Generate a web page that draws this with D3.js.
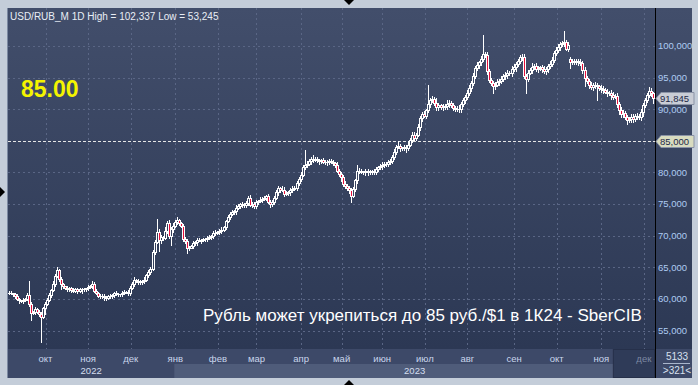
<!DOCTYPE html>
<html>
<head>
<meta charset="utf-8">
<script src="https://cdn.jsdelivr.net/npm/d3@7"></script>
<style>
  body { margin: 0; background: #c4cdd9; }
  svg { display: block; }
  text { font-family: "Liberation Sans", Arial, sans-serif; }
</style>
</head>
<body>
<div id="chart"></div>
<script>
// trading calendar
const firstDay = "2022-09-07";
const lastDay = "2023-12-08";
const holidays = ["2022-11-04", "2023-01-02", "2023-02-23", "2023-03-08", "2023-05-01",
    "2023-05-08", "2023-05-09", "2023-06-12", "2023-11-06"];

// daily closes, USD/RUB
const closes = [
    61.0, 60.9, 60.7, 60.4, 60.0, 59.8, 59.7, 59.9, 60.0, 60.6,
    59.2, 57.8, 57.9, 58.4, 58.0, 57.6, 57.1, 58.5, 59.2,
    59.9, 60.6, 61.4, 62.4, 63.6, 64.5, 63.2, 62.3, 62.0, 61.8,
    61.5, 61.7, 61.4, 61.3, 61.6, 61.3, 61.5, 61.6, 61.5, 61.7,
    61.9, 62.0, 62.3, 61.3, 61.0, 60.5, 60.4, 60.5, 60.3, 60.2,
    60.5, 60.4, 60.6, 60.9, 60.8, 60.7, 60.7, 61.0, 61.1,
    61.1, 60.9, 61.8, 62.4, 63.0, 62.9, 62.7, 62.6, 62.8, 63.0,
    63.8, 64.2, 64.8, 67.4, 69.0, 70.6, 69.3, 69.8, 69.6, 70.8,
    72.0, 70.0, 71.0, 71.6, 72.2, 72.4, 72.0, 71.5, 69.5, 69.2,
    68.0, 68.1, 68.3, 68.8, 69.0, 69.3, 69.2, 69.3, 69.4,
    69.5, 69.6, 69.8, 69.9, 70.5, 70.4, 70.6, 70.7, 70.9, 71.3,
    72.3, 73.0, 73.4, 73.7, 73.9, 74.4, 74.7, 75.0, 74.8, 74.9,
    75.1, 75.9, 74.9, 75.0, 74.7, 75.3, 75.5, 75.7, 75.8,
    76.0, 76.2, 75.4, 75.0, 75.3, 76.0, 76.9, 77.5, 77.2, 77.3,
    76.6, 76.8, 76.9, 77.2, 77.4, 77.6, 78.4, 79.0, 79.6, 80.8,
    81.2, 81.4, 81.8, 82.2, 82.0, 82.1, 81.9, 81.8, 81.9, 81.7,
    81.6, 81.7, 81.8, 81.7, 81.5, 81.2, 80.3, 79.8, 79.3,
    78.2, 77.8, 77.6, 77.2, 76.3, 77.4, 78.8, 80.2, 80.3, 80.1,
    80.0, 80.2, 80.0, 80.1, 80.2, 80.1, 80.5, 80.8, 81.0, 81.2,
    81.3, 81.4, 81.6, 81.8, 82.5, 83.2, 84.0, 84.2, 83.8, 83.9,
    84.0, 83.8, 84.4, 85.2, 86.0, 85.5, 86.0, 87.2, 88.6,
    89.3, 89.0, 89.8, 90.8, 91.5, 91.6, 91.0, 90.3, 90.6, 90.4,
    90.3, 90.5, 90.9, 91.0, 90.6, 90.2, 90.1, 90.0, 90.1, 90.8,
    91.4, 91.9, 92.6, 93.4, 94.1, 95.3, 96.5, 97.0, 97.4, 97.9,
    98.8, 98.6, 96.0, 94.6, 94.2, 93.6, 93.9, 94.3, 94.5,
    94.8, 95.2, 95.4, 95.8, 95.7, 96.4, 96.6, 97.2, 97.6, 98.2,
    98.3, 95.3, 94.8, 95.8, 96.2, 96.6, 96.8, 96.4, 96.5, 96.6,
    96.3, 96.1, 96.4, 96.8, 97.2, 97.8, 98.9, 99.4, 99.8,
    100.3, 100.4, 100.6, 99.6, 100.2, 97.5, 97.6, 97.5, 97.6, 97.4,
    97.3, 96.2, 95.0, 94.4, 93.8, 93.5, 93.9, 93.8, 93.6, 93.4,
    93.2, 93.0, 92.8, 92.5, 92.6, 92.2, 92.0, 92.1, 90.8, 89.9,
    89.2, 89.4, 88.7, 88.3, 88.4, 88.8, 88.5, 88.9, 89.0,
    88.7, 89.5, 90.6, 91.5, 92.2, 92.9, 92.5, 91.845
];
// opens that did not start at the previous close
const gapOpens = [[277, 97.9]];
// wick length above / below the body, tenths of a rouble
const upperWicks = [
    2,3,1,2,3,2,1,3,2,4, 0,3,2,3,1,2,3,2,3,2,
    3,2,4,3,0,2,3,2,1,3, 2,2,3,1,2,3,2,2,1,3,
    2,0,3,2,1,2,3,2,2,1, 3,2,2,3,2,1,2,3,2,3,
    2,3,4,2,3,3,2,4,2,3, 0,3,3,2,4,3,2,5,3,4,
    3,4,2,5,3,2,4,3,2,3, 2,3,2,4,3,2,3,2,4,3,
    2,3,4,2,3,4,3,2,3,4, 3,2,4,3,2,3,2,4,3,2,
    3,4,3,2,4,3,2,3,4,2, 3,2,3,4,2,3,4,3,2,3,
    4,3,2,3,4,3,2,4,3,3, 2,4,3,2,3,4,3,2,3,4,
    3,2,4,3,2,3,4,3,2,4, 3,2,3,4,3,2,4,3,3,2,
    4,3,2,3,4,3,2,3,4,3, 5,3,4,3,2,4,3,5,3,4,
    4,3,5,4,3,4,3,4,3,5, 4,3,4,3,4,3,5,4,3,4,
    3,4,5,3,4,3,4,5,3,4, 3,4,3,5,4,3,4,3,4,3,
    4,5,3,4,3,5,4,3,4,5, 3,4,3,4,5,3,4,3,4,3,
    5,4,3,4,5,3,4,5,4,3, 4,5,3,4,3,4,5,4,3,4,
    3,4,5,3,4,3,4,5,3,4, 4,3,5,4,3,4,3,4,5,3,
    4,3,4,5,3,4,3,5,4,3, 4,3,5,4,3,4,5,4,3
];
const lowerWicks = [
    3,2,2,3,2,0,2,3,2,2, 3,0,2,3,2,3,0,2,0,2,
    2,3,2,3,2,3,0,3,2,3, 2,3,2,2,3,2,0,3,2,3,
    2,3,2,3,2,2,3,0,3,2, 3,2,3,2,3,2,2,3,2,3,
    3,2,3,2,3,2,3,3,2,3, 3,2,3,2,3,4,3,2,4,3,
    3,4,2,3,3,2,4,3,2,3, 0,3,2,4,0,3,2,3,3,2,
    3,2,3,2,4,3,2,3,2,3, 2,3,4,2,3,3,2,4,3,2,
    3,2,4,3,2,3,2,4,3,2, 3,3,2,4,3,2,3,2,3,4,
    3,2,3,4,3,2,3,3,2,4, 3,2,3,4,3,2,3,4,3,2,
    4,3,2,3,4,3,2,3,4,3, 2,3,4,3,2,3,4,3,2,3,
    3,4,3,2,4,3,3,4,2,3, 4,3,2,4,3,3,4,3,2,4,
    3,4,3,5,4,3,4,3,5,4, 3,4,5,3,4,3,4,5,3,4,
    4,3,4,5,3,4,3,4,5,3, 4,3,5,4,3,4,5,3,4,3,
    4,3,5,4,3,4,5,3,4,3, 5,4,3,4,3,5,4,3,4,3,
    4,5,3,4,3,4,5,3,4,4, 3,4,5,3,4,3,4,5,3,4,
    3,4,3,5,4,3,4,3,5,4, 3,4,5,4,3,4,3,5,4,3,
    4,3,5,4,3,4,3,4,5,3, 4,3,4,5,3,4,3,4,3
];
// long wicks [bar, price]
const highSpikes = [[10, 62.8], [24, 65.0], [41, 62.8], [62, 63.4], [70, 65.0], [73, 72.6],
    [79, 72.5], [83, 72.9], [119, 76.5], [135, 77.9], [146, 83.5], [150, 82.7], [172, 81.2],
    [192, 84.9], [207, 93.8], [211, 91.8], [234, 101.7], [254, 98.8], [258, 97.3],
    [274, 102.337], [277, 98.0], [281, 97.9], [316, 93.5]];
const lowSpikes = [[5, 59.3], [11, 56.6], [16, 53.245], [18, 57.6], [26, 61.6], [36, 60.9],
    [47, 59.8], [74, 67.5], [80, 68.5], [88, 67.2], [91, 68.0], [121, 74.3], [129, 74.6],
    [164, 78.6], [169, 75.4], [177, 79.6], [196, 83.3], [239, 92.5], [255, 92.5], [265, 95.6],
    [277, 96.5], [284, 93.6], [290, 91.4], [297, 91.6], [301, 89.3], [305, 87.7], [318, 91.0]];

const yTicks = [55, 60, 65, 70, 75, 80, 85, 90, 95, 100];
const monthNames = ["янв", "фев", "мар", "апр", "май", "июн", "июл", "авг", "сен", "окт", "ноя", "дек"];
const targetLevel = 85;
const title = "USD/RUB_M 1D High = 102,337 Low = 53,245";
const bigLabel = "85.00";
const note = "Рубль может укрепиться до 85 руб./$1 в 1К24 - SberCIB";
const cornerTop = "5133";
const cornerBottom = ">321<";

const W = 698, H = 385;
const plot = { left: 8, right: 655, top: 8, bottom: 349 };
const axisRight = 692, axisBottom = 378;

const parse = d3.utcParse("%Y-%m-%d");
const fmtDay = d3.utcFormat("%Y-%m-%d");
const days = d3.utcDay.range(parse(firstDay), d3.utcDay.offset(parse(lastDay), 1))
    .filter(d => d.getUTCDay() % 6 !== 0 && !holidays.includes(fmtDay(d)));
if (days.length !== closes.length) console.error("bars", days.length, closes.length);

const gapMap = new Map(gapOpens);
const hiMap = new Map(highSpikes);
const loMap = new Map(lowSpikes);
const bars = closes.map((c, i) => {
    const o = gapMap.has(i) ? gapMap.get(i) : (i > 0 ? closes[i - 1] : c);
    return {
        i, date: days[i], open: o, close: c,
        high: Math.max(Math.max(o, c) + upperWicks[i] / 10, hiMap.get(i) ?? -Infinity),
        low: Math.min(Math.min(o, c) - lowerWicks[i] / 10, loMap.get(i) ?? Infinity)
    };
});

const x = d3.scaleBand().domain(d3.range(bars.length)).range([plot.left, plot.right]).padding(0);
const y = d3.scaleLinear().domain([55, 100]).range([330.5, 46]);
const ru = d3.formatLocale({ decimal: ",", thousands: " ", grouping: [3], currency: ["", ""] });
const fmtPrice = ru.format(".3f");

const svg = d3.select("#chart").append("svg").attr("width", W).attr("height", H);
const defs = svg.append("defs");
const grad = defs.append("linearGradient").attr("id", "bg")
    .attr("gradientUnits", "userSpaceOnUse")
    .attr("x1", 0).attr("x2", 0).attr("y1", plot.top).attr("y2", plot.bottom);
grad.append("stop").attr("offset", 0).attr("stop-color", "#424e6b");
grad.append("stop").attr("offset", 1).attr("stop-color", "#2c3854");

// outer frame
svg.append("rect").attr("width", W).attr("height", H).attr("fill", "#c4cdd9");
svg.append("rect").attr("x", plot.left).attr("y", plot.top)
    .attr("width", axisRight - plot.left).attr("height", plot.bottom - plot.top)
    .attr("fill", "url(#bg)");

// bottom axis strip
const monthStarts = bars.filter((b, i) => i > 0 && b.date.getUTCMonth() !== bars[i - 1].date.getUTCMonth());
const cx = i => x(i) + x.bandwidth() / 2;
svg.append("rect").attr("x", plot.left).attr("y", plot.bottom)
    .attr("width", axisRight - plot.left).attr("height", axisBottom - plot.bottom).attr("fill", "#3d4968");

const years = d3.groups(bars, b => b.date.getUTCFullYear());
const firstYearEnd = x(years[1][1][0].i);
svg.append("rect").attr("x", firstYearEnd).attr("y", 364)
    .attr("width", plot.right - firstYearEnd).attr("height", axisBottom - 364).attr("fill", "#4f5c7a");
const lastMonth = monthStarts[monthStarts.length - 1];
svg.append("rect").attr("x", cx(lastMonth.i) - 30.5).attr("y", plot.bottom + 0.5)
    .attr("width", plot.right - cx(lastMonth.i) + 30).attr("height", axisBottom - plot.bottom - 1)
    .attr("fill", "#2f3b58").attr("stroke", "#26304a");

// corner box
svg.append("line").attr("x1", 663).attr("x2", 690).attr("y1", 363.5).attr("y2", 363.5)
    .attr("stroke", "#a9b6cc");
svg.append("text").attr("x", 677).attr("y", 360).attr("text-anchor", "middle")
    .attr("font-size", 10).attr("fill", "#d8e0ee").text(cornerTop);
svg.append("text").attr("x", 677).attr("y", 374).attr("text-anchor", "middle")
    .attr("font-size", 10).attr("fill", "#d8e0ee").text(cornerBottom);

// grid
const grid = svg.append("g").attr("stroke", "#5a6685").attr("stroke-dasharray", "2,3").attr("shape-rendering", "crispEdges");
grid.selectAll("line.h").data(yTicks.filter(t => t !== targetLevel)).join("line")
    .attr("x1", plot.left).attr("x2", plot.right)
    .attr("y1", d => Math.round(y(d)) + 0.5).attr("y2", d => Math.round(y(d)) + 0.5);
grid.selectAll("line.v").data(monthStarts).join("line")
    .attr("x1", d => Math.round(cx(d.i)) + 0.5).attr("x2", d => Math.round(cx(d.i)) + 0.5)
    .attr("y1", plot.top).attr("y2", plot.bottom);

// month / year labels
svg.append("g").selectAll("text").data(monthStarts).join("text")
    .attr("x", d => cx(d.i)).attr("y", 362).attr("text-anchor", "middle")
    .attr("font-size", 9.5)
    .attr("fill", d => d === lastMonth ? "#7d88a2" : "#c9d6ec")
    .text(d => monthNames[d.date.getUTCMonth()]);
svg.append("g").selectAll("text").data(years).join("text")
    .attr("x", d => (x(d[1][0].i) + x(d[1][d[1].length - 1].i) + x.bandwidth()) / 2)
    .attr("y", 374).attr("text-anchor", "middle").attr("font-size", 9.5).attr("fill", "#d4deef")
    .text(d => d[0]);

// target level line
svg.append("line").attr("x1", plot.left).attr("x2", plot.right)
    .attr("y1", Math.round(y(targetLevel)) + 0.5).attr("y2", Math.round(y(targetLevel)) + 0.5)
    .attr("stroke", "#e6e6e6").attr("stroke-dasharray", "3,2").attr("shape-rendering", "crispEdges");

// candles: 3px white body, 1px interior (red = falling, hollow = rising)
const px = v => Math.round(v);
const candles = svg.append("g").attr("shape-rendering", "crispEdges");
bars.forEach(b => {
    const P = px(cx(b.i) - 0.5);
    const top = px(y(Math.max(b.open, b.close)));
    const bot = px(y(Math.min(b.open, b.close)));
    const hi = px(y(b.high)), lo = px(y(b.low));
    const g = candles.append("g");
    g.append("rect").attr("x", P).attr("y", hi).attr("width", 1).attr("height", lo - hi + 1).attr("fill", "#fff");
    g.append("rect").attr("x", P - 1).attr("y", top).attr("width", 3).attr("height", bot - top + 1).attr("fill", "#fff");
    if (bot - top >= 2) {
        g.append("rect").attr("x", P).attr("y", top + 1).attr("width", 1).attr("height", bot - top - 1)
            .attr("fill", b.close < b.open ? "#e5103c" : "url(#bg)");
    }
});

// frame lines
svg.append("line").attr("x1", plot.right + 0.5).attr("x2", plot.right + 0.5)
    .attr("y1", plot.top).attr("y2", axisBottom).attr("stroke", "#000");
svg.append("line").attr("x1", plot.left - 0.5).attr("x2", plot.left - 0.5)
    .attr("y1", plot.top).attr("y2", axisBottom).attr("stroke", "#7d8aa2");

// right axis labels (the target level is shown by its tag)
svg.append("g").selectAll("text").data(yTicks.filter(t => t !== targetLevel)).join("text")
    .attr("x", 658).attr("y", d => y(d)).attr("dy", "0.35em")
    .attr("font-size", 9.5).attr("fill", "#aecbf2")
    .text(d => fmtPrice(d));

// price tags
function tag(value, fill) {
    const yc = Math.round(y(value)) + 0.5;
    svg.append("path")
        .attr("d", `M${plot.right + 1},${yc} L${plot.right + 6},${yc - 6} L${axisRight + 2},${yc - 6} L${axisRight + 2},${yc + 6} L${plot.right + 6},${yc + 6} Z`)
        .attr("fill", fill).attr("stroke", "#8a93a6");
    svg.append("text").attr("x", 660).attr("y", yc).attr("dy", "0.35em")
        .attr("font-size", 9.5).attr("fill", "#1d2846").text(fmtPrice(value));
}
tag(targetLevel, "#d9dcc0");
tag(bars[bars.length - 1].close, "#c9cdd6");

// texts
svg.append("text").attr("x", 10).attr("y", 20).attr("font-size", 10).attr("fill", "#e8edf5").text(title);
svg.append("text").attr("x", 21).attr("y", 97).attr("font-size", 23).attr("font-weight", "bold")
    .attr("fill", "#f4f400").text(bigLabel);
svg.append("text").attr("x", 203).attr("y", 321).attr("font-size", 17).attr("fill", "#ffffff").text(note);

// scroll markers
svg.append("path").attr("d", "M344,0 L354,0 L349,5 Z").attr("fill", "#000");
svg.append("path").attr("d", "M344,385 L354,385 L349,380 Z").attr("fill", "#000");
svg.append("path").attr("d", "M0,187 L0,197 L5,192 Z").attr("fill", "#000");
</script>
</body>
</html>
